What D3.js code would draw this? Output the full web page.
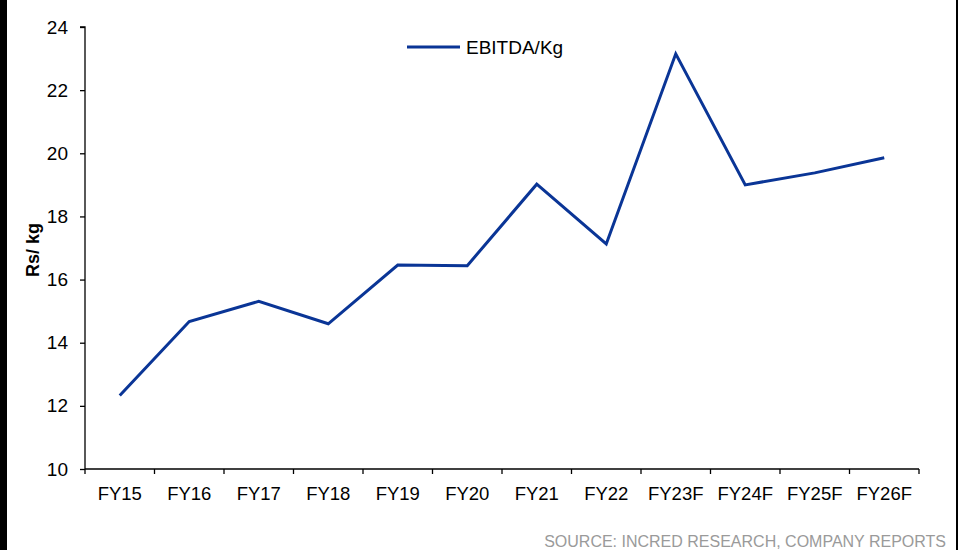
<!DOCTYPE html>
<html>
<head>
<meta charset="utf-8">
<script src="https://cdn.jsdelivr.net/npm/d3@7"></script>
<style>
  html, body { margin: 0; padding: 0; background: #fff; }
  svg { display: block; font-family: "Liberation Sans", Arial, sans-serif; }
</style>
</head>
<body>
<svg id="chart" width="958" height="550"></svg>
<script>
// EBITDA per kg, FY15 to FY26F
const categories = ["FY15", "FY16", "FY17", "FY18", "FY19", "FY20", "FY21", "FY22", "FY23F", "FY24F", "FY25F", "FY26F"];
const ebitdaPerKg = [12.33, 14.67, 15.31, 14.6, 16.46, 16.44, 19.02, 17.13, 23.15, 19.0, 19.38, 19.86];
const yTicks = [10, 12, 14, 16, 18, 20, 22, 24];
const seriesName = "EBITDA/Kg";
const yLabel = "Rs/ kg";
const sourceNote = "SOURCE: INCRED RESEARCH, COMPANY REPORTS";

const svg = d3.select("#chart");
const W = 958, H = 550;
const margin = { left: 85, right: 39, top: 27, bottom: 81 };
const lineColor = "#0a3596";

// page frame edges
svg.append("rect").attr("x", 0).attr("y", 0).attr("width", 7).attr("height", H).attr("fill", "#000");
svg.append("rect").attr("x", 956).attr("y", 0).attr("width", 2).attr("height", H).attr("fill", "#000");

const x = d3.scaleBand().domain(categories).range([margin.left, W - margin.right]).paddingInner(0).paddingOuter(0);
const y = d3.scaleLinear().domain([10, 24]).range([H - margin.bottom, margin.top]);

// y axis
const yAxis = svg.append("g")
  .attr("transform", `translate(${margin.left},0)`)
  .call(d3.axisLeft(y).tickValues(yTicks).tickSize(5).tickPadding(12).tickFormat(d3.format("d")));
yAxis.select(".domain").attr("stroke", "#000").attr("stroke-width", 1.3).attr("d", `M-5,${y(24)}H0V${y(10)}`);
yAxis.selectAll(".tick line").attr("stroke", "#000").attr("stroke-width", 1.3);
yAxis.selectAll(".tick text").attr("font-size", 19).attr("fill", "#000")
  .style("font-family", "'Liberation Sans', Arial, sans-serif");

// x axis with ticks at category boundaries
const xBase = H - margin.bottom;
const xg = svg.append("g").attr("transform", `translate(0,${xBase})`);
xg.append("line").attr("x1", margin.left).attr("x2", W - margin.right)
  .attr("y1", 0).attr("y2", 0).attr("stroke", "#000").attr("stroke-width", 1.3);
const boundaries = categories.map(c => x(c)).concat([x(categories[categories.length - 1]) + x.bandwidth()]);
xg.selectAll("line.tk").data(boundaries).join("line").attr("class", "tk")
  .attr("x1", d => d).attr("x2", d => d).attr("y1", 0).attr("y2", 5)
  .attr("stroke", "#000").attr("stroke-width", 1.3);
xg.selectAll("text").data(categories).join("text")
  .attr("x", d => x(d) + x.bandwidth() / 2).attr("y", 31)
  .attr("text-anchor", "middle").attr("font-size", 18.5).attr("fill", "#000")
  .text(d => d);

// y axis title
svg.append("text")
  .attr("transform", `translate(39,250) rotate(-90)`)
  .attr("text-anchor", "middle").attr("font-size", 18).attr("font-weight", "bold").attr("fill", "#000")
  .text(yLabel);

// series line
const line = d3.line()
  .x((d, i) => x(categories[i]) + x.bandwidth() / 2)
  .y(d => y(d));
svg.append("path").datum(ebitdaPerKg)
  .attr("d", line).attr("fill", "none")
  .attr("stroke", lineColor).attr("stroke-width", 3).attr("stroke-linejoin", "miter");

// legend
svg.append("line").attr("x1", 407).attr("x2", 460).attr("y1", 47).attr("y2", 47)
  .attr("stroke", lineColor).attr("stroke-width", 3);
svg.append("text").attr("x", 466).attr("y", 54).attr("font-size", 19).attr("fill", "#000").text(seriesName);

// source note
svg.append("text").attr("x", 946).attr("y", 547).attr("text-anchor", "end")
  .attr("font-size", 16).attr("fill", "#9a9a9a").text(sourceNote);
</script>
</body>
</html>
